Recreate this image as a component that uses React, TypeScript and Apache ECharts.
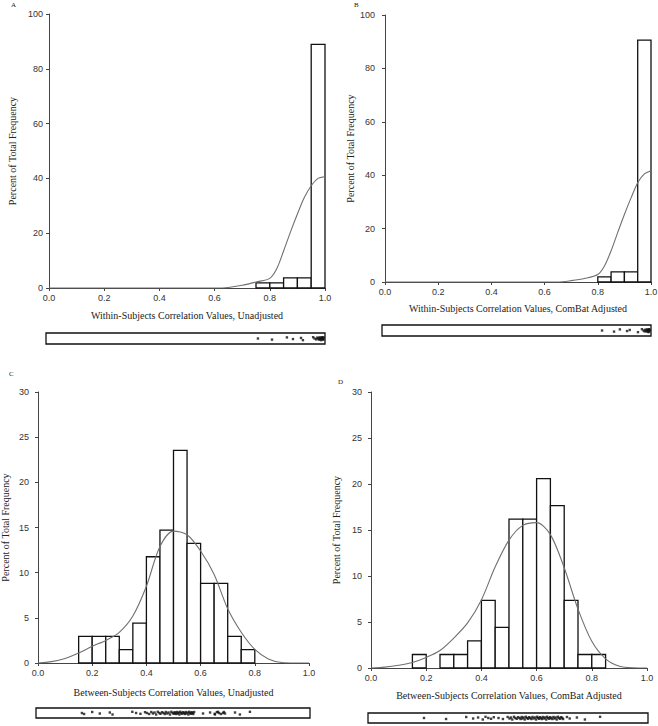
import React, { useEffect, useRef } from "react";
import * as echarts from "echarts";

// ---------- DATA ----------
const binWidth = 0.05;
const panelLetters = ["A", "B", "C", "D"];
const xTitles = [
  "Within-Subjects Correlation Values, Unadjusted",
  "Within-Subjects Correlation Values, ComBat Adjusted",
  "Between-Subjects Correlation Values, Unadjusted",
  "Between-Subjects Correlation Values, ComBat Adjusted",
];
const yTitle = "Percent of Total Frequency";
const yMaxes = [100, 100, 30, 30];
const yIntervals = [20, 20, 5, 5];
const xTickInterval = 0.2;

// Histogram bin starts and percent heights
const binStartsA = [0.75, 0.8, 0.85, 0.9, 0.95];
const heightsA = [1.85, 1.85, 3.7, 3.7, 88.9];
const binStartsB = [0.8, 0.85, 0.9, 0.95];
const heightsB = [1.9, 3.77, 3.77, 90.6];
const binStartsC = [0.15, 0.2, 0.25, 0.3, 0.35, 0.4, 0.45, 0.5, 0.55, 0.6, 0.65, 0.7, 0.75];
const heightsC = [2.94, 2.94, 2.94, 1.47, 4.41, 11.76, 14.71, 23.53, 13.24, 8.82, 8.82, 2.94, 1.47];
const binStartsD = [0.15, 0.2, 0.25, 0.3, 0.35, 0.4, 0.45, 0.5, 0.55, 0.6, 0.65, 0.7, 0.75, 0.8];
const heightsD = [1.47, 0, 1.47, 1.47, 2.94, 7.35, 4.41, 16.18, 16.18, 20.59, 17.65, 7.35, 1.47, 1.47];

// Density curves
const curveXA = [0, 0.6, 0.65, 0.7, 0.75, 0.8, 0.825, 0.85, 0.875, 0.9, 0.925, 0.95, 0.975, 1.0];
const curveYA = [0, 0, 0.2, 1.0, 2.2, 3.5, 7.0, 13.5, 20.5, 27.0, 33.0, 37.3, 40.0, 40.6];
const curveXB = [0, 0.65, 0.7, 0.75, 0.8, 0.825, 0.85, 0.875, 0.9, 0.925, 0.95, 0.975, 1.0];
const curveYB = [0, 0, 0.5, 1.3, 2.8, 6.0, 11.7, 18.6, 25.3, 31.5, 37.2, 40.5, 41.7];
const curveXC = [0, 0.05, 0.1, 0.15, 0.2, 0.25, 0.3, 0.35, 0.4, 0.45, 0.5, 0.55, 0.6, 0.65, 0.7, 0.75, 0.8, 0.85, 0.9, 0.95, 1.0];
const curveYC = [0, 0.15, 0.5, 1.1, 1.85, 2.5, 3.4, 5.2, 8.5, 12.9, 14.6, 14.2, 12.4, 9.8, 6.0, 3.4, 1.5, 0.45, 0.05, 0, 0];
const curveXD = [0, 0.05, 0.1, 0.15, 0.2, 0.25, 0.3, 0.35, 0.4, 0.45, 0.5, 0.55, 0.6, 0.65, 0.7, 0.75, 0.8, 0.85, 0.9, 0.95, 1.0];
const curveYD = [0, 0.1, 0.3, 0.6, 1.15, 1.9, 3.25, 4.9, 7.4, 11.0, 13.9, 15.5, 15.8, 14.5, 10.9, 6.4, 2.9, 1.0, 0.2, 0.02, 0];

// Rug (individual correlation values)
const rugA = [0.757, 0.808, 0.862, 0.884, 0.913, 0.92, 0.957, 0.962, 0.968, 0.972, 0.975, 0.978, 0.98, 0.982, 0.984, 0.986, 0.988, 0.99, 0.991, 0.992, 0.993, 0.994, 0.995];
const rugB = [0.816, 0.861, 0.883, 0.91, 0.92, 0.951, 0.966, 0.972, 0.976, 0.979, 0.982, 0.984, 0.986, 0.988, 0.99, 0.991, 0.992, 0.993, 0.994, 0.995];
const rugC = [0.162, 0.17, 0.2, 0.228, 0.265, 0.275, 0.348, 0.362, 0.378, 0.395, 0.402, 0.41, 0.418, 0.424, 0.43, 0.436, 0.442, 0.448, 0.452, 0.458, 0.463, 0.468, 0.472, 0.477, 0.482, 0.487, 0.492, 0.497, 0.501, 0.504, 0.507, 0.51, 0.513, 0.516, 0.519, 0.522, 0.525, 0.528, 0.532, 0.535, 0.539, 0.542, 0.545, 0.548, 0.552, 0.555, 0.558, 0.561, 0.564, 0.567, 0.57, 0.573, 0.576, 0.609, 0.635, 0.653, 0.664, 0.683, 0.652, 0.66, 0.668, 0.675, 0.686, 0.69, 0.727, 0.745, 0.782];
const rugD = [0.192, 0.272, 0.345, 0.37, 0.388, 0.405, 0.415, 0.425, 0.435, 0.445, 0.462, 0.478, 0.495, 0.502, 0.507, 0.512, 0.518, 0.523, 0.528, 0.533, 0.538, 0.542, 0.546, 0.549, 0.553, 0.557, 0.561, 0.565, 0.569, 0.573, 0.577, 0.581, 0.585, 0.589, 0.594, 0.598, 0.602, 0.605, 0.609, 0.612, 0.616, 0.619, 0.623, 0.627, 0.631, 0.635, 0.638, 0.642, 0.646, 0.649, 0.653, 0.657, 0.661, 0.665, 0.669, 0.673, 0.677, 0.681, 0.685, 0.689, 0.693, 0.696, 0.71, 0.72, 0.746, 0.775, 0.83];
const rugJitter = [0.5, 0.4, 0.6, 0.45, 0.55, 0.35, 0.62, 0.5, 0.42, 0.58];

// ---------- LAYOUT ----------
const mainGrids = [
  { left: 49, top: 14, width: 276, height: 274, yOffset: 0, yGap: 32, xGap: 22 },
  { left: 385, top: 15, width: 266, height: 267, yOffset: 4, yGap: 26, xGap: 21 },
  { left: 38, top: 392, width: 271, height: 271, yOffset: 3, yGap: 25, xGap: 24 },
  { left: 371, top: 392, width: 276, height: 276, yOffset: 3, yGap: 27, xGap: 22 },
];
const rugGrids = [
  { left: 46, top: 333, width: 279, height: 11 },
  { left: 382, top: 325, width: 269, height: 11 },
  { left: 36, top: 708, width: 274, height: 10 },
  { left: 368, top: 713, width: 280, height: 10 },
];
const letterPos = [
  [11, 1],
  [354, 1],
  [9, 370],
  [338, 378],
];

const binStarts = [binStartsA, binStartsB, binStartsC, binStartsD];
const heights = [heightsA, heightsB, heightsC, heightsD];
const curvesX = [curveXA, curveXB, curveXC, curveXD];
const curvesY = [curveYA, curveYB, curveYC, curveYD];
const rugs = [rugA, rugB, rugC, rugD];

const sans = "Liberation Sans, Arial, sans-serif";
const serif = "Liberation Serif, Times New Roman, serif";

export default function App() {
  const ref = useRef<HTMLDivElement>(null);
  useEffect(() => {
    document.body.style.margin = "0";
    if (!ref.current) return;
    const chart = echarts.init(ref.current, null, { renderer: "svg" });

    const grid: any[] = [];
    const xAxis: any[] = [];
    const yAxis: any[] = [];
    const series: any[] = [];
    const graphic: any[] = [];

    for (let i = 0; i < 4; i++) {
      const g = mainGrids[i];
      grid.push({ left: g.left, top: g.top, width: g.width, height: g.height, outerBoundsMode: "none", containLabel: false });
      xAxis.push({
        type: "value",
        gridIndex: i * 2,
        min: 0,
        max: 1,
        interval: xTickInterval,
        name: xTitles[i],
        nameLocation: "middle",
        nameGap: g.xGap,
        nameTextStyle: { fontFamily: serif, fontSize: 10, color: "#222" },
        axisLine: { show: true, onZero: false, lineStyle: { color: "#444", width: 1 } },
        axisTick: { show: true, inside: false, length: 3, lineStyle: { color: "#444" } },
        axisLabel: { fontFamily: sans, fontSize: 9, color: "#333", margin: 5, formatter: (v: number) => v.toFixed(1) },
        splitLine: { show: false },
      });
      yAxis.push({
        type: "value",
        gridIndex: i * 2,
        min: 0,
        max: yMaxes[i],
        interval: yIntervals[i],
        offset: g.yOffset,
        name: yTitle,
        nameLocation: "middle",
        nameGap: g.yGap,
        nameTextStyle: { fontFamily: serif, fontSize: 10, color: "#222" },
        axisLine: { show: true, lineStyle: { color: "#444", width: 1 } },
        axisTick: { show: true, inside: false, length: 3, lineStyle: { color: "#444" } },
        axisLabel: { fontFamily: sans, fontSize: 9, color: "#333", margin: 6 },
        splitLine: { show: false },
      });

      const r = rugGrids[i];
      const xScale = mainGrids[i].width; // px per unit
      const rugMin = -(mainGrids[i].left - r.left) / xScale;
      const rugMax = rugMin + r.width / xScale;
      grid.push({
        left: r.left, top: r.top, width: r.width, height: r.height,
        show: true, borderColor: "#111", borderWidth: 1.3, backgroundColor: "#fff",
        outerBoundsMode: "none", containLabel: false,
      });
      xAxis.push({ type: "value", gridIndex: i * 2 + 1, min: rugMin, max: rugMax, show: false });
      yAxis.push({ type: "value", gridIndex: i * 2 + 1, min: 0, max: 1, show: false });

      series.push({
        type: "custom",
        xAxisIndex: i * 2,
        yAxisIndex: i * 2,
        data: binStarts[i].map((s, k) => [s, s + binWidth, heights[i][k]]),
        encode: { x: [0, 1], y: 2 },
        renderItem: (params: any, api: any) => {
          const s = api.value(0);
          const e = api.value(1);
          const h = api.value(2);
          if (h <= 0) return null;
          const p0 = api.coord([s, 0]);
          const p1 = api.coord([e, h]);
          return {
            type: "rect",
            shape: { x: p0[0], y: p1[1], width: p1[0] - p0[0], height: p0[1] - p1[1] },
            style: { fill: "#fff", stroke: "#111", lineWidth: 1.3 },
          };
        },
        z: 2,
      });
      series.push({
        type: "line",
        xAxisIndex: i * 2,
        yAxisIndex: i * 2,
        data: curvesX[i].map((x, k) => [x, curvesY[i][k]]),
        smooth: 0.3,
        showSymbol: false,
        symbol: "none",
        lineStyle: { color: "#707070", width: 1.1 },
        z: 3,
      });
      series.push({
        type: "scatter",
        xAxisIndex: i * 2 + 1,
        yAxisIndex: i * 2 + 1,
        data: rugs[i].map((v, k) => [v, rugJitter[k % rugJitter.length]]),
        symbol: "rect",
        symbolSize: 2.4,
        itemStyle: { color: "#111" },
        z: 3,
      });

      graphic.push({
        type: "text",
        left: letterPos[i][0],
        top: letterPos[i][1],
        style: { text: panelLetters[i], font: `7px ${serif}`, fill: "#222" },
      });
    }

    chart.setOption({
      animation: false,
      backgroundColor: "#fff",
      grid,
      xAxis,
      yAxis,
      series,
      graphic,
    });
    return () => chart.dispose();
  }, []);
  return <div ref={ref} style={{ width: 658, height: 726 }} />;
}
